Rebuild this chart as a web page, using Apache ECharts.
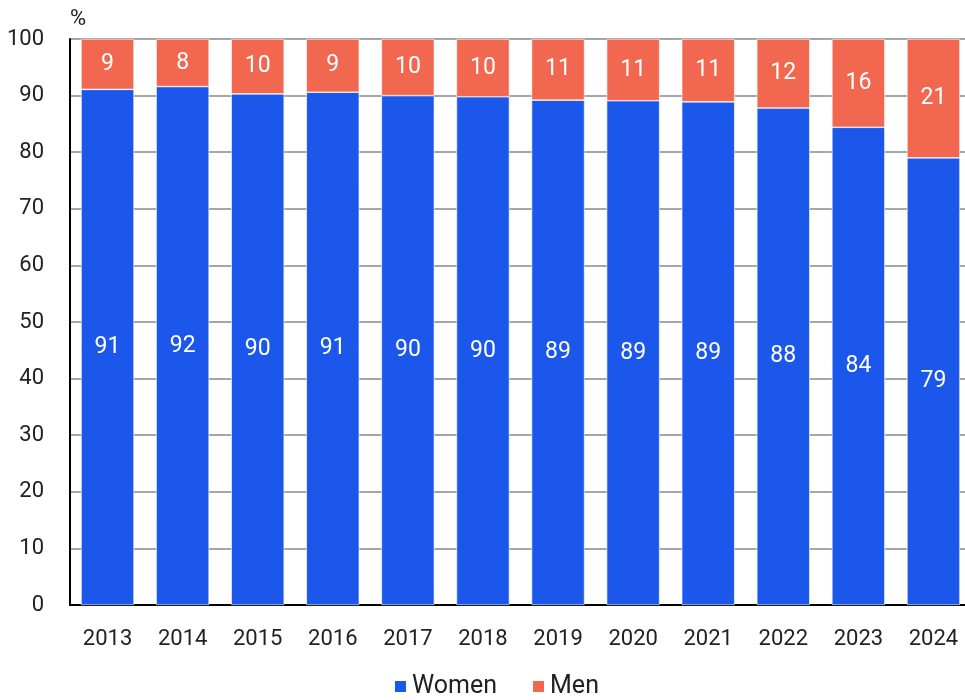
<!DOCTYPE html>
<html>
<head>
<meta charset="utf-8">
<script src="https://cdn.jsdelivr.net/npm/echarts@6/dist/echarts.min.js"></script>
<style>html,body{margin:0;padding:0;background:#fff}#c{width:965px;height:700px}</style>
</head>
<body>
<div id="c"></div>
<script>
const years = ['2013','2014','2015','2016','2017','2018','2019','2020','2021','2022','2023','2024'];
const women = [91.1, 91.6, 90.3, 90.6, 90.0, 89.8, 89.2, 89.1, 88.9, 87.8, 84.4, 79.0];
const men = [8.9, 8.4, 9.7, 9.4, 10.0, 10.2, 10.8, 10.9, 11.1, 12.2, 15.6, 21.0];
const yTicks = [0, 10, 20, 30, 40, 50, 60, 70, 80, 90, 100];

const FONT = 'Roboto';
const chart = echarts.init(document.getElementById('c'), null, {renderer: 'canvas'});
const labelCfg = {
  show: true, position: 'inside', color: '#fff', fontSize: 23, fontFamily: FONT,
  formatter: p => Math.round(p.value)
};
chart.setOption({
  animation: false,
  textStyle: {fontFamily: FONT},
  grid: {left: 70, top: 39, width: 901, bottom: 95, containLabel: false, outerBoundsMode: 'none'},
  legend: {
    bottom: -4, left: 388, itemWidth: 13, itemHeight: 13, itemGap: 34,
    icon: 'rect',
    textStyle: {fontSize: 25, color: '#222', fontFamily: FONT},
    data: ['Women', 'Men']
  },
  xAxis: {
    type: 'category', data: years,
    axisLine: {lineStyle: {color: '#000', width: 2}},
    axisTick: {show: false},
    axisLabel: {fontSize: 22, color: '#222', margin: 23, fontFamily: FONT}
  },
  yAxis: {
    type: 'value', min: yTicks[0], max: yTicks[yTicks.length - 1], interval: 10,
    name: '%', nameLocation: 'end', nameGap: 9,
    nameTextStyle: {fontSize: 22, color: '#222', align: 'left', fontFamily: FONT},
    axisLine: {show: true, lineStyle: {color: '#000', width: 2}},
    axisTick: {show: false},
    axisLabel: {fontSize: 22, color: '#222', margin: 26, fontFamily: FONT},
    splitLine: {lineStyle: {color: '#888', width: 1.5}}
  },
  series: [
    {name: 'Women', type: 'bar', stack: 'a', data: women, barWidth: 53,
     itemStyle: {color: '#1c57eb', borderColor: '#fff', borderWidth: 0.6}, label: labelCfg},
    {name: 'Men', type: 'bar', stack: 'a', data: men, barWidth: 53,
     itemStyle: {color: '#f2674f', borderColor: '#fff', borderWidth: 0.6}, label: labelCfg}
  ]
});
</script>
</body>
</html>
